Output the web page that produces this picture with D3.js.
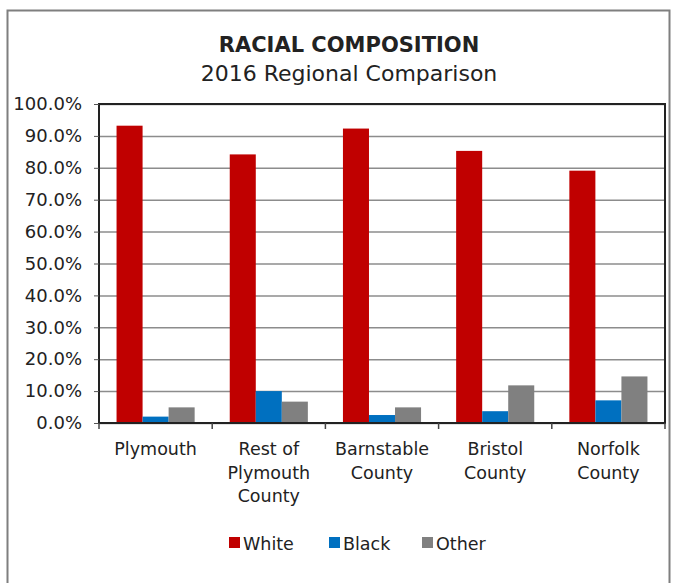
<!DOCTYPE html>
<html>
<head>
<meta charset="utf-8">
<script src="https://cdn.jsdelivr.net/npm/d3@7"></script>
<style>
  body { margin: 0; background: #fff; }
  svg text { font-family: "DejaVu Sans", sans-serif; fill: #222; }
</style>
</head>
<body>
<div id="chart"></div>
<script>
// Data
var categories = [
  ["Plymouth"],
  ["Rest of", "Plymouth", "County"],
  ["Barnstable", "County"],
  ["Bristol", "County"],
  ["Norfolk", "County"]
];
var seriesNames = ["White", "Black", "Other"];
var whiteValues = [93.2, 84.2, 92.3, 85.3, 79.1];
var blackValues = [2.0, 10.0, 2.5, 3.7, 7.1];
var otherValues = [4.9, 6.7, 4.9, 11.8, 14.6];
var yTicks = [0, 10, 20, 30, 40, 50, 60, 70, 80, 90, 100];

var COLORS = { White: "#C00000", Black: "#0070C0", Other: "#808080" };

var width = 676, height = 583;
var margins = { top: 104, right: 11, bottom: 160, left: 99 };
var chartWidth = width - margins.left - margins.right;
var chartHeight = height - margins.top - margins.bottom;

var svg = d3.select("#chart").append("svg")
  .attr("width", width)
  .attr("height", height);

// outer frame
svg.append("rect")
  .attr("x", 7.5).attr("y", 10.5)
  .attr("width", 662).attr("height", 590)
  .attr("fill", "none").attr("stroke", "#7f7f7f").attr("stroke-width", 2);

// titles
svg.append("text")
  .attr("x", 349).attr("y", 52)
  .attr("text-anchor", "middle")
  .style("font-size", "21px").style("font-weight", "bold")
  .text("RACIAL COMPOSITION");
svg.append("text")
  .attr("x", 349).attr("y", 81)
  .attr("text-anchor", "middle")
  .style("font-size", "22px")
  .text("2016 Regional Comparison");

var chart = svg.append("g")
  .attr("transform", `translate(${margins.left},${margins.top})`);

var data = categories.map((c, i) => ({
  name: c.join(" "),
  lines: c,
  values: [
    { key: "White", value: whiteValues[i] },
    { key: "Black", value: blackValues[i] },
    { key: "Other", value: otherValues[i] }
  ]
}));

var xScale = d3.scaleBand()
  .domain(data.map(d => d.name))
  .range([0, chartWidth])
  .paddingInner(0.31)
  .paddingOuter(0.155);

var xInner = d3.scaleBand()
  .domain(seriesNames)
  .range([0, xScale.bandwidth()]);

var yScale = d3.scaleLinear()
  .domain([0, 100])
  .range([chartHeight, 0]);

// grid
chart.append("g")
  .attr("class", "y grid")
  .call(d3.axisLeft(yScale).tickValues(yTicks).tickSize(-chartWidth).tickFormat(""))
  .call(g => g.select(".domain").remove())
  .call(g => g.selectAll("line").attr("stroke", "#8c8c8c").attr("stroke-width", 1.5));

// bars
chart.append("g")
  .selectAll("g")
  .data(data)
  .enter()
  .append("g")
  .attr("transform", d => `translate(${xScale(d.name)},0)`)
  .selectAll("rect")
  .data(d => d.values)
  .enter()
  .append("rect")
  .attr("x", d => xInner(d.key))
  .attr("y", d => yScale(d.value))
  .attr("width", xInner.bandwidth())
  .attr("height", d => chartHeight - yScale(d.value))
  .attr("fill", d => COLORS[d.key]);

// plot frame
chart.append("rect")
  .attr("x", 0).attr("y", 0)
  .attr("width", chartWidth).attr("height", chartHeight)
  .attr("fill", "none").attr("stroke", "#222").attr("stroke-width", 2);

// y axis
chart.append("g")
  .attr("class", "y axis")
  .call(d3.axisLeft(yScale).tickValues(yTicks).tickSize(5).tickPadding(12)
    .tickFormat(d => d.toFixed(1) + "%"))
  .call(g => g.select(".domain").remove())
  .call(g => g.selectAll("line").attr("stroke", "#555"))
  .call(g => g.selectAll("text")
    .style("font-size", "18px")
    .style("font-family", "'DejaVu Sans', sans-serif")
    .attr("fill", "#222"));

// x axis ticks at category boundaries
var boundaries = d3.range(categories.length + 1).map(i => i * chartWidth / categories.length);
chart.append("g")
  .selectAll("line")
  .data(boundaries)
  .enter()
  .append("line")
  .attr("x1", d => d).attr("x2", d => d)
  .attr("y1", chartHeight).attr("y2", chartHeight + 6)
  .attr("stroke", "#444").attr("stroke-width", 1.5);

// category labels
chart.append("g")
  .selectAll("text")
  .data(data)
  .enter()
  .append("text")
  .attr("text-anchor", "middle")
  .attr("transform", d => `translate(${xScale(d.name) + xScale.bandwidth() / 2},${chartHeight + 32})`)
  .style("font-size", "17.5px")
  .each(function(d) {
    var t = d3.select(this);
    d.lines.forEach((l, i) => {
      t.append("tspan").attr("x", 0).attr("dy", i ? 23.5 : 0).text(l);
    });
  });

// legend
var legendX = [229, 329, 422];
var legend = svg.append("g")
  .selectAll("g")
  .data(seriesNames)
  .enter()
  .append("g")
  .attr("transform", (d, i) => `translate(${legendX[i]},537)`);
legend.append("rect")
  .attr("width", 11).attr("height", 11)
  .attr("fill", d => COLORS[d]);
legend.append("text")
  .attr("x", 14).attr("y", 13)
  .style("font-size", "17.5px")
  .text(d => d);
</script>
</body>
</html>
